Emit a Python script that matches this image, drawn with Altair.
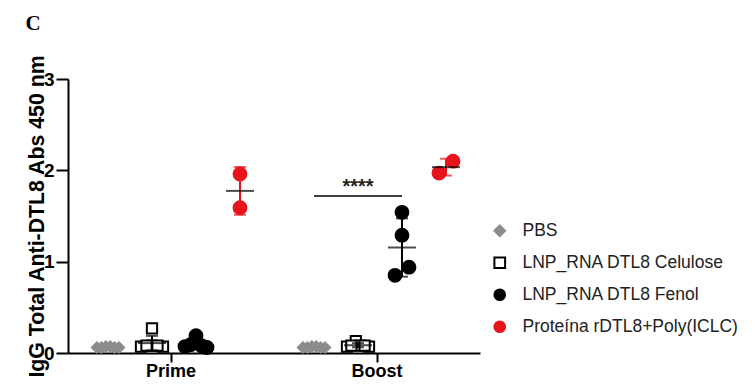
import altair as alt
import pandas as pd

# ---- data ----
groups = ["PBS", "LNP_RNA DTL8 Celulose", "LNP_RNA DTL8 Fenol", "Proteína rDTL8+Poly(ICLC)"]
times = ["Prime", "Boost"]

pbs_prime = [0.06, 0.07, 0.06, 0.06, 0.07, 0.06]
pbs_boost = [0.06, 0.07, 0.06, 0.06, 0.07, 0.06]
cel_prime = [0.27, 0.08, 0.07, 0.08, 0.07, 0.08]
cel_boost = [0.13, 0.08, 0.07, 0.08, 0.07, 0.08]
fen_prime = [0.19, 0.09, 0.07, 0.06, 0.08]
fen_boost = [1.54, 1.29, 0.94, 0.85]
prot_prime = [1.96, 1.59]
prot_boost = [2.10, 1.97]

sig_y = 1.72
sig_label = "****"

series = {
    ("Prime", 0): pbs_prime, ("Boost", 0): pbs_boost,
    ("Prime", 1): cel_prime, ("Boost", 1): cel_boost,
    ("Prime", 2): fen_prime, ("Boost", 2): fen_boost,
    ("Prime", 3): prot_prime, ("Boost", 3): prot_boost,
}

PX_PER_UNIT = 91.3   # vertical pixels per y unit
PX_PER_SLOT = 44.0   # horizontal pixels per group slot


def spread(vals, thresh=13, max_width=22, step=14):
    """Scatter-plot style horizontal spreading of points with similar values."""
    order = sorted(range(len(vals)), key=lambda i: vals[i])
    clusters, cur = [], [order[0]]
    for i in order[1:]:
        if (vals[i] - vals[cur[-1]]) * PX_PER_UNIT < thresh:
            cur.append(i)
        else:
            clusters.append(cur)
            cur = [i]
    clusters.append(cur)
    off = [0.0] * len(vals)
    for c in clusters:
        n = len(c)
        if n == 1:
            continue
        s = min(step, max_width / (n - 1))
        slots = [(k - (n - 1) / 2) * s for k in range(n)]
        if n == 2:
            assign, ordered_slots = c, slots
        else:
            assign = sorted(c, key=lambda i: -vals[i])
            ordered_slots = sorted(slots, key=lambda p: (abs(p), p))
        for i, p in zip(assign, ordered_slots):
            off[i] = p / PX_PER_SLOT
    return off


rows = []
for (t, gi), vals in series.items():
    offs = spread(vals)
    for v, o in zip(vals, offs):
        rows.append({"time": t, "group": groups[gi], "pos": gi, "xo": gi + o, "value": v})
df = pd.DataFrame(rows)

sig_df = pd.DataFrame({"time": ["Boost", "Boost"], "pos": [0, 2], "value": [sig_y, sig_y]})
star_df = pd.DataFrame({"time": ["Boost"], "pos": [1], "value": [sig_y], "label": [sig_label]})

W, H = 412, 274
GRAY, RED = "#8c8c8c", "#e8141c"

x_enc = alt.X("time:N", sort=times, title=None,
              scale=alt.Scale(domain=times, paddingInner=0, paddingOuter=0),
              axis=alt.Axis(labelAngle=0, labelFont="Liberation Sans", labelFontSize=18,
                            labelFontWeight="bold", labelColor="black", labelPadding=0,
                            tickSize=9, tickWidth=2, tickColor="black",
                            domainWidth=2, domainColor="black"))
xo_scale = alt.Scale(domain=[-0.909, 3.773], range=[0, W / 2])
y_scale = alt.Scale(domain=[0, 3])
y_enc = alt.Y("value:Q", scale=y_scale, title="IgG Total Anti-DTL8 Abs 450 nm",
              axis=alt.Axis(values=[0, 1, 2, 3], grid=False, format="d",
                            labelFont="Liberation Sans", labelFontSize=19, labelFontWeight="bold",
                            labelColor="black", labelPadding=2, tickSize=12, tickWidth=2,
                            tickColor="black", domainWidth=2, domainColor="black",
                            titleFont="Liberation Sans", titleFontSize=21.3, titleFontWeight="bold",
                            titleColor="black", titlePadding=-4))

legend = alt.Legend(orient="none", legendX=423, legendY=143, title=None, padding=0,
                    labelFont="Liberation Sans", labelFontSize=17.5, labelColor="#222",
                    symbolSize=115, symbolStrokeWidth=2, labelOffset=14, rowPadding=12,
                    labelLimit=400)

shape_enc = alt.Shape("group:N", sort=groups, legend=legend,
                      scale=alt.Scale(domain=groups, range=["diamond", "square", "circle", "circle"]))
fill_enc = alt.Fill("group:N", sort=groups, legend=legend,
                    scale=alt.Scale(domain=groups, range=[GRAY, "white", "black", RED]))
stroke_enc = alt.Stroke("group:N", sort=groups, legend=legend,
                        scale=alt.Scale(domain=groups, range=[GRAY, "black", "black", RED]))

base_pts = alt.Chart(df).encode(
    x=x_enc, xOffset=alt.XOffset("xo:Q", scale=xo_scale), y=y_enc,
    shape=shape_enc, fill=fill_enc, stroke=stroke_enc,
)
pts_small = base_pts.transform_filter("datum.pos < 2").mark_point(
    opacity=1, fillOpacity=1, strokeWidth=2, size=105)
pts_round = base_pts.transform_filter("datum.pos >= 2").mark_point(
    opacity=1, fillOpacity=1, strokeWidth=2, size=165)

agg = alt.Chart(df).transform_aggregate(
    mean="mean(value)", sd="stdev(value)", groupby=["time", "group", "pos"]
).transform_calculate(
    lo="datum.mean - datum.sd", hi="datum.mean + datum.sd"
)
err_color = alt.Color("group:N", legend=None,
                      scale=alt.Scale(domain=groups, range=[GRAY, "black", "black", RED]))

xb = alt.X("time:N", sort=times)
xob = alt.XOffset("pos:Q", scale=xo_scale)

err_rule = agg.mark_rule(strokeWidth=2).encode(
    x=xb, xOffset=xob, y=alt.Y("lo:Q", scale=y_scale), y2="hi:Q", color=err_color)
cap_lo = agg.mark_tick(size=12, thickness=2).encode(
    x=xb, xOffset=xob, y=alt.Y("lo:Q", scale=y_scale), color=err_color)
cap_hi = agg.mark_tick(size=12, thickness=2).encode(
    x=xb, xOffset=xob, y=alt.Y("hi:Q", scale=y_scale), color=err_color)
mean_gray = agg.transform_filter("datum.pos == 0").mark_tick(
    size=28, thickness=2, color=GRAY).encode(
    x=xb, xOffset=xob, y=alt.Y("mean:Q", scale=y_scale))
mean_black = agg.transform_filter("datum.pos > 0").mark_tick(
    size=28, thickness=2, color="black").encode(
    x=xb, xOffset=xob, y=alt.Y("mean:Q", scale=y_scale))

sig_line = alt.Chart(sig_df).mark_line(color="black", strokeWidth=1.5).encode(
    x=xb, xOffset=xob, y=alt.Y("value:Q", scale=y_scale))
stars = alt.Chart(star_df).mark_text(font="Liberation Sans", fontSize=20, fontWeight="bold",
                                     baseline="bottom", dy=1, color="#222").encode(
    x=xb, xOffset=xob, y=alt.Y("value:Q", scale=y_scale), text="label:N")

chart = alt.layer(
    pts_small, pts_round, err_rule, cap_lo, cap_hi, mean_gray, mean_black, sig_line, stars
).resolve_scale(
    color="independent"
).resolve_legend(
    color="independent"
).properties(
    width=W, height=H,
    padding={"left": 60, "top": 71, "right": 267, "bottom": 26},
    autosize=alt.AutoSizeParams(type="none"),
    title=alt.TitleParams("C", anchor="start", font="Liberation Serif", fontSize=21,
                          fontWeight="bold", color="black", dx=-1, dy=-16),
).configure_view(stroke=None)

chart.save("out.html", embed_options={"renderer": "svg", "actions": False})
